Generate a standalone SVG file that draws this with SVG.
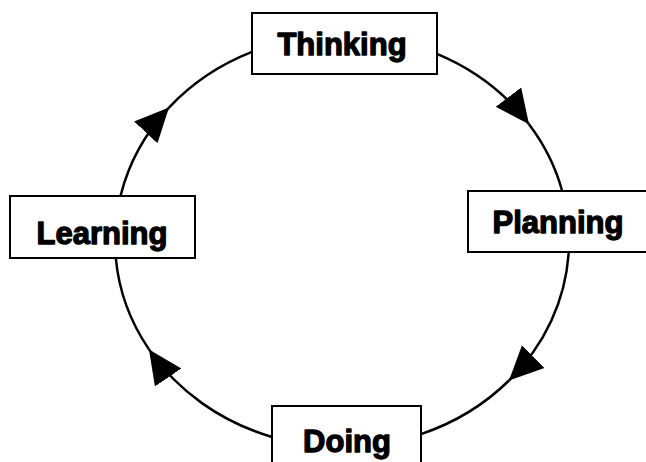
<svg xmlns="http://www.w3.org/2000/svg" width="646" height="462" viewBox="0 0 646 462">
<style>
.box{fill:#fff;stroke:#000;stroke-width:2}
.lbl{font-family:"Liberation Sans",Arial,sans-serif;font-weight:bold;font-size:31px;fill:#000;stroke:#000;stroke-width:1.3;stroke-linejoin:round;text-anchor:middle}
.c{fill:none;stroke:#000;stroke-width:2.5}
</style>
<defs>
<marker id="ah" markerUnits="userSpaceOnUse" markerWidth="36" markerHeight="34" viewBox="0 0 36 34" refX="34" refY="17" orient="auto">
<path d="M0,1 L34,17 L0,33 z" fill="#000"/>
</marker>
</defs>
<rect width="646" height="462" fill="#fff"/>
<g id="connectors">
<path class="c" d="M437,53.9 A227,206 0 0 1 529,124.2" marker-end="url(#ah)"/>
<path class="c" d="M529,124.2 A227,206 0 0 1 562.2,191"/>
<path class="c" d="M568.7,252 A227,206 0 0 1 509,380.5" marker-end="url(#ah)"/>
<path class="c" d="M509,380.5 A227,206 0 0 1 421,434.1"/>
<path class="c" d="M272,437 A227,206 0 0 1 149,349.4" marker-end="url(#ah)"/>
<path class="c" d="M149,349.4 A227,206 0 0 1 115.8,258"/>
<path class="c" d="M120.5,196 A227,206 0 0 1 169,107.6" marker-end="url(#ah)"/>
<path class="c" d="M169,107.6 A227,206 0 0 1 252,51.9"/>
</g>
<g id="thinking">
<rect class="box" x="252" y="13" width="185" height="61"/>
<text class="lbl" x="342" y="55">Thinking</text>
</g>
<g id="planning">
<rect class="box" x="468" y="191" width="185" height="61"/>
<text class="lbl" x="558" y="233">Planning</text>
</g>
<g id="doing">
<rect class="box" x="272" y="406" width="149" height="62"/>
<text class="lbl" x="347" y="452">Doing</text>
</g>
<g id="learning">
<rect class="box" x="10" y="196" width="185" height="62"/>
<text class="lbl" x="102" y="244">Learning</text>
</g>
</svg>
